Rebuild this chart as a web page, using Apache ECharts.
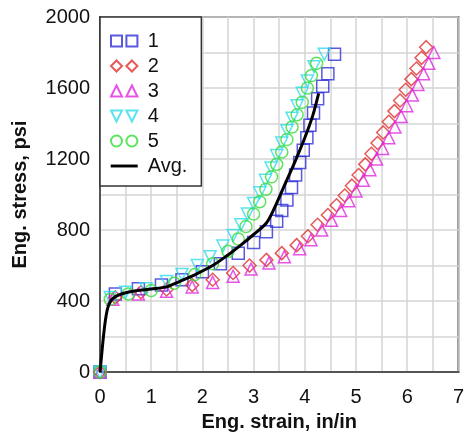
<!DOCTYPE html>
<html><head><meta charset="utf-8">
<script src="https://cdn.jsdelivr.net/npm/echarts@6/dist/echarts.min.js"></script>
<style>html,body{margin:0;padding:0;background:#fff}#c{width:467px;height:437px}</style>
</head><body><div id="c"></div>
<script>
const xTicks = [0,1,2,3,4,5,6,7];
const yTicks = [0,400,800,1200,1600,2000];

const s1x = [0,0.3,0.75,1.2,1.6,2.0,2.35,2.7,3.0,3.25,3.45,3.55,3.65,3.74,3.82,3.9,3.97,4.04,4.1,4.17,4.25,4.35,4.45,4.58];
const s1y = [0,440,470,490,520,565,610,670,730,790,850,910,970,1040,1110,1180,1250,1320,1390,1460,1540,1610,1680,1790];

const s2x = [0,0.3,0.8,1.3,1.8,2.2,2.6,2.92,3.25,3.55,3.84,4.06,4.25,4.45,4.62,4.78,4.92,5.05,5.18,5.3,5.42,5.53,5.64,5.75,5.86,5.97,6.08,6.18,6.28,6.37];
const s2y = [0,420,450,465,490,520,558,600,632,670,715,765,830,885,940,995,1050,1110,1170,1230,1290,1350,1410,1470,1530,1590,1650,1710,1770,1830];

const s3x = [0,0.25,0.75,1.3,1.8,2.2,2.6,2.95,3.3,3.6,3.9,4.12,4.33,4.52,4.7,4.86,5.0,5.14,5.27,5.4,5.52,5.64,5.76,5.88,5.99,6.1,6.21,6.32,6.42,6.52];
const s3y = [0,410,440,455,480,505,540,580,615,650,695,745,800,855,910,965,1020,1080,1140,1200,1260,1320,1380,1440,1500,1560,1620,1680,1740,1800];

const s4x = [0,0.2,0.5,0.9,1.3,1.6,1.9,2.15,2.4,2.6,2.75,2.88,3.0,3.12,3.23,3.34,3.45,3.55,3.65,3.75,3.85,3.95,4.05,4.18,4.38];
const s4y = [0,420,450,470,510,550,600,650,710,770,830,890,950,1010,1080,1150,1220,1290,1360,1430,1500,1570,1640,1720,1790];

const s5x = [0,0.2,0.55,1.0,1.45,1.85,2.2,2.5,2.7,2.85,3.0,3.12,3.24,3.35,3.45,3.55,3.65,3.75,3.85,3.95,4.05,4.13,4.23];
const s5y = [0,410,440,460,500,550,610,680,750,820,890,960,1030,1100,1170,1240,1310,1380,1450,1520,1600,1670,1740];

const avgx = [0,0.03,0.06,0.1,0.15,0.22,0.3,0.45,0.7,1.0,1.3,1.55,1.85,2.2,2.5,2.75,3.0,3.25,3.4,3.6,3.8,4.0,4.15,4.27];
const avgy = [0,90,180,280,360,405,425,443,458,468,480,510,548,600,660,715,775,840,920,1050,1180,1320,1440,1570];

const names = ['1','2','3','4','5','Avg.'];
const colors = ['#3030d8','#e03030','#e028e0','#30dcec','#34dc34','#000000'];

const zip = (a,b) => a.map((v,i)=>[v,b[i]]);
const font = 'Liberation Sans, Arial, sans-serif';

function mk(i, xs, ys, symbol, rot){
  return {
    name: names[i], type: 'scatter', data: zip(xs, ys),
    symbol: symbol, symbolSize: symbol==='diamond'?13:12, symbolRotate: rot||0,
    itemStyle: {color: 'rgba(0,0,0,0)', borderColor: colors[i], borderWidth: 1.5},
    z: 2
  };
}

const chart = echarts.init(document.getElementById('c'));
chart.setOption({
  animation: false,
  backgroundColor: '#fff',
  grid: {left: 100, top: 17, right: 8, bottom: 62, show: true, borderColor: '#555', borderWidth: 2, backgroundColor: 'rgba(0,0,0,0)'},
  xAxis: {
    type: 'value', min: 0, max: 7, interval: 0.5,
    name: 'Eng. strain, in/in', nameLocation: 'middle', nameGap: 38,
    nameTextStyle: {fontFamily: font, fontSize: 20, fontWeight: 'bold', color: '#111'},
    axisLine: {show: true, lineStyle: {color: '#555', width: 2}},
    axisTick: {show: false},
    axisLabel: {fontFamily: font, fontSize: 20, color: '#111', margin: 15,
      formatter: v => (xTicks.indexOf(v) >= 0 ? String(v) : '')},
    splitLine: {show: true, lineStyle: {color: '#d4d4d4', width: 1.5}}
  },
  yAxis: {
    type: 'value', min: 0, max: 2000, interval: 200,
    name: 'Eng. stress, psi', nameLocation: 'middle', nameGap: 70,
    nameTextStyle: {fontFamily: font, fontSize: 20, fontWeight: 'bold', color: '#111'},
    axisLine: {show: true, lineStyle: {color: '#555', width: 2}},
    axisTick: {show: false},
    axisLabel: {fontFamily: font, fontSize: 20, color: '#111', margin: 10,
      formatter: v => (yTicks.indexOf(v) >= 0 ? String(v) : '')},
    splitLine: {show: true, lineStyle: {color: '#d4d4d4', width: 1.5}}
  },
  legend: {
    left: 100, top: 17, orient: 'vertical',
    backgroundColor: '#fff', borderColor: '#333', borderWidth: 1.5,
    padding: [14, 14, 10, 10], itemGap: 5, itemWidth: 27, itemHeight: 11,
    textStyle: {fontFamily: font, fontSize: 20, color: '#111', lineHeight: 16, padding: [0,0,0,5]},
    data: [
      {name: '1', icon: 'path://M0,0H10V10H0Z M14,0H24V10H14Z'},
      {name: '2', icon: 'path://M5,0L10,5L5,10L0,5Z M19,0L24,5L19,10L14,5Z'},
      {name: '3', icon: 'path://M5,0L10,10H0Z M19,0L24,10H14Z'},
      {name: '4', icon: 'path://M0,0H10L5,10Z M14,0H24L19,10Z'},
      {name: '5', icon: 'path://M0,5A5,5,0,1,1,10,5A5,5,0,1,1,0,5Z M14,5A5,5,0,1,1,24,5A5,5,0,1,1,14,5Z'},
      {name: 'Avg.', icon: 'path://M0,3.7H24V6.3H0Z'}
    ],
    z: 10
  },
  series: [
    mk(0, s1x, s1y, 'rect'),
    mk(1, s2x, s2y, 'diamond'),
    mk(2, s3x, s3y, 'triangle'),
    mk(3, s4x, s4y, 'triangle', 180),
    mk(4, s5x, s5y, 'circle'),
    {name: 'Avg.', type: 'line', data: zip(avgx, avgy), showSymbol: false, smooth: 0.3,
     lineStyle: {color: '#000', width: 3}, itemStyle: {color: '#000'}, z: 5}
  ]
});
</script></body></html>
